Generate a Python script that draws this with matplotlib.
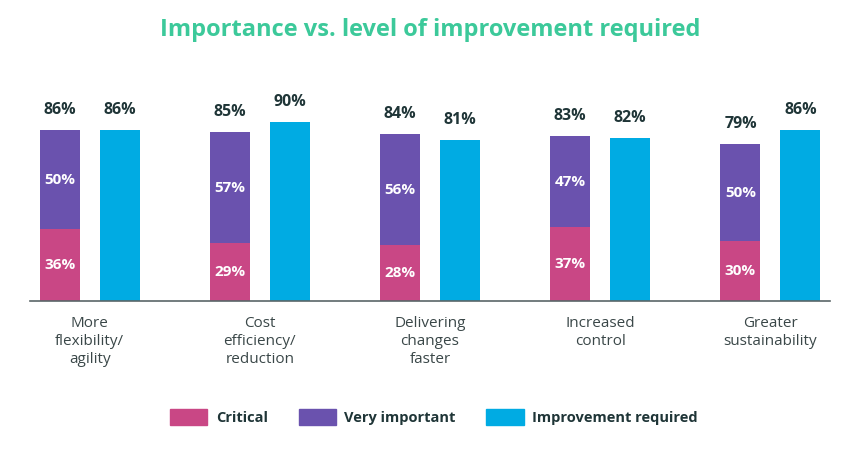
import numpy as np
import matplotlib.pyplot as plt
from matplotlib.patches import Patch

# Data
categories = ["More\nflexibility/\nagility", "Cost\nefficiency/\nreduction",
              "Delivering\nchanges\nfaster", "Increased\ncontrol", "Greater\nsustainability"]
critical = [36, 29, 28, 37, 30]
very_important = [50, 57, 56, 47, 50]
important_total = [86, 85, 84, 83, 79]  # critical + very important (as labelled)
improvement = [86, 90, 81, 82, 86]

c_crit = '#C94785'
c_very = '#6A52AE'
c_impr = '#00ABE3'
c_text = '#1F3537'

plt.rcParams['font.family'] = ['Open Sans', 'DejaVu Sans']

fig = plt.figure(figsize=(8.6, 4.68), dpi=100)
ax = fig.add_axes([30 / 860, (468 - 301) / 468, 800 / 860, 199 / 468])

x = np.arange(len(categories))
off = 0.176
w = 0.235

top_part = np.array(important_total) - np.array(critical)
ax.bar(x - off, critical, w, color=c_crit)
ax.bar(x - off, top_part, w, bottom=critical, color=c_very)
ax.bar(x + off, improvement, w, color=c_impr)

for i in range(len(categories)):
    ax.text(x[i] - off, important_total[i] + 10, f"{important_total[i]}%", ha='center', va='center',
            fontsize=11.5, fontweight='bold', color=c_text)
    ax.text(x[i] + off, improvement[i] + 10, f"{improvement[i]}%", ha='center', va='center',
            fontsize=11.5, fontweight='bold', color=c_text)
    ax.text(x[i] - off, critical[i] / 2, f"{critical[i]}%", ha='center', va='center',
            fontsize=11, fontweight='bold', color='white')
    ax.text(x[i] - off, critical[i] + top_part[i] / 2, f"{very_important[i]}%",
            ha='center', va='center', fontsize=11, fontweight='bold', color='white')

ax.set_xlim(-0.35, 4.35)
ax.set_ylim(0, 100)
ax.set_yticks([])
ax.set_xticks(x)
ax.set_xticklabels(categories, fontsize=11, color='#3A4748', linespacing=1.25)
ax.tick_params(axis='x', length=0, pad=11)
for s in ['top', 'right', 'left']:
    ax.spines[s].set_visible(False)
ax.spines['bottom'].set_color('#5A6668')
ax.spines['bottom'].set_linewidth(1.2)

fig.text(0.5, 1 - 30 / 468, "Importance vs. level of improvement required", ha='center', va='center',
         fontsize=17, fontweight='bold', color='#3CC99A')

handles = [Patch(color=c_crit, label='Critical'),
           Patch(color=c_very, label='Very important'),
           Patch(color=c_impr, label='Improvement required')]
leg = fig.legend(handles=handles, loc='center', bbox_to_anchor=(434 / 860, 1 - 417 / 468), ncol=3,
                 frameon=False, prop={'weight': 'bold', 'size': 10.5},
                 handlelength=2.55, handleheight=1.4, handletextpad=0.6, columnspacing=2.1)
for t in leg.get_texts():
    t.set_color(c_text)

fig.savefig('out.png', dpi=100)
